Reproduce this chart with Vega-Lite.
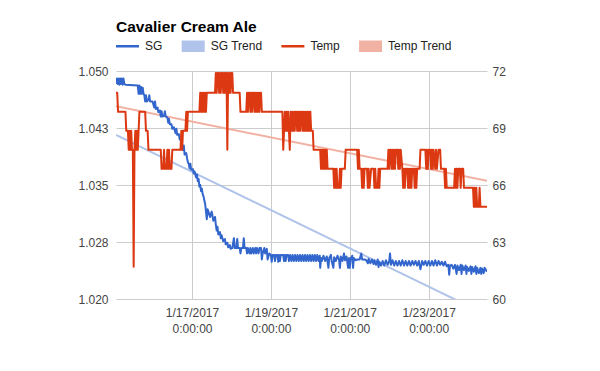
{
  "$schema": "https://vega.github.io/schema/vega-lite/v6.json",
  "width": 371,
  "height": 228,
  "autosize": {"type": "none"},
  "padding": {"left": 116, "top": 71, "right": 113, "bottom": 72},
  "background": "white",
  "config": {
    "font": "Liberation Sans",
    "view": {"stroke": null},
    "axis": {"labelFont": "Liberation Sans", "labelFontSize": 12, "labelColor": "#444444", "domain": false, "ticks": false, "title": null, "gridColor": "#cccccc", "gridWidth": 1}
  },
  "title": {"text": "Cavalier Cream Ale", "anchor": "start", "frame": "group", "font": "Liberation Sans", "fontSize": 15.5, "fontWeight": "bold", "color": "#000000", "offset": -1},
  "datasets": {
    "sgTrend": [{"t": "2017-01-15T01:45", "v": 1.0416}, {"t": "2017-01-24T11:30", "v": 1.0179}],
    "tempTrend": [{"t": "2017-01-15T01:45", "v": 70.14}, {"t": "2017-01-24T11:30", "v": 66.22}],
    "sg": [
      {"t": "2017-01-15T01:45", "v": 1.0483}, {"t": "2017-01-15T02:18", "v": 1.049}, {"t": "2017-01-15T02:48", "v": 1.0483}, {"t": "2017-01-15T03:18", "v": 1.049}, {"t": "2017-01-15T03:48", "v": 1.0482}, {"t": "2017-01-15T04:18", "v": 1.049}, {"t": "2017-01-15T04:48", "v": 1.0483}, {"t": "2017-01-15T05:18", "v": 1.049}, {"t": "2017-01-15T05:48", "v": 1.0482}, {"t": "2017-01-15T06:18", "v": 1.049}, {"t": "2017-01-15T06:48", "v": 1.0483}, {"t": "2017-01-15T07:30", "v": 1.0482},
      {"t": "2017-01-15T15:00", "v": 1.0481}, {"t": "2017-01-15T15:30", "v": 1.047}, {"t": "2017-01-15T16:00", "v": 1.0481}, {"t": "2017-01-15T16:30", "v": 1.047}, {"t": "2017-01-15T17:00", "v": 1.0479}, {"t": "2017-01-15T17:30", "v": 1.047}, {"t": "2017-01-15T18:00", "v": 1.0478}, {"t": "2017-01-15T18:30", "v": 1.047},
      {"t": "2017-01-15T19:00", "v": 1.0468}, {"t": "2017-01-15T19:30", "v": 1.046}, {"t": "2017-01-15T20:00", "v": 1.0468}, {"t": "2017-01-15T20:30", "v": 1.046}, {"t": "2017-01-15T21:30", "v": 1.0462}, {"t": "2017-01-15T22:00", "v": 1.0468}, {"t": "2017-01-15T22:30", "v": 1.046}, {"t": "2017-01-16T00:00", "v": 1.046},
      {"t": "2017-01-16T01:00", "v": 1.0452}, {"t": "2017-01-16T01:30", "v": 1.046}, {"t": "2017-01-16T02:00", "v": 1.045}, {"t": "2017-01-16T03:00", "v": 1.0452}, {"t": "2017-01-16T03:30", "v": 1.0446}, {"t": "2017-01-16T04:30", "v": 1.0448},
      {"t": "2017-01-16T05:00", "v": 1.044}, {"t": "2017-01-16T05:30", "v": 1.0447}, {"t": "2017-01-16T06:00", "v": 1.044}, {"t": "2017-01-16T07:00", "v": 1.0441}, {"t": "2017-01-16T07:30", "v": 1.0447}, {"t": "2017-01-16T08:00", "v": 1.044}, {"t": "2017-01-16T09:00", "v": 1.0439},
      {"t": "2017-01-16T09:30", "v": 1.0432}, {"t": "2017-01-16T10:00", "v": 1.0437}, {"t": "2017-01-16T10:30", "v": 1.043}, {"t": "2017-01-16T11:30", "v": 1.043}, {"t": "2017-01-16T12:00", "v": 1.0424}, {"t": "2017-01-16T13:00", "v": 1.0426},
      {"t": "2017-01-16T14:00", "v": 1.0418}, {"t": "2017-01-16T14:30", "v": 1.0424}, {"t": "2017-01-16T15:00", "v": 1.0416}, {"t": "2017-01-16T16:00", "v": 1.0417}, {"t": "2017-01-16T16:30", "v": 1.041}, {"t": "2017-01-16T17:30", "v": 1.0412},
      {"t": "2017-01-16T18:00", "v": 1.0403}, {"t": "2017-01-16T18:30", "v": 1.0396}, {"t": "2017-01-16T19:00", "v": 1.0402}, {"t": "2017-01-16T19:30", "v": 1.039}, {"t": "2017-01-16T20:30", "v": 1.0392}, {"t": "2017-01-16T21:00", "v": 1.0385}, {"t": "2017-01-16T21:30", "v": 1.038},
      {"t": "2017-01-16T22:00", "v": 1.0378}, {"t": "2017-01-16T22:30", "v": 1.0372}, {"t": "2017-01-16T23:00", "v": 1.0378}, {"t": "2017-01-16T23:30", "v": 1.037}, {"t": "2017-01-17T00:30", "v": 1.0371}, {"t": "2017-01-17T01:00", "v": 1.0365}, {"t": "2017-01-17T01:30", "v": 1.0368}, {"t": "2017-01-17T02:30", "v": 1.036}, {"t": "2017-01-17T03:00", "v": 1.0364},
      {"t": "2017-01-17T03:30", "v": 1.0355}, {"t": "2017-01-17T04:00", "v": 1.0358}, {"t": "2017-01-17T04:30", "v": 1.0348}, {"t": "2017-01-17T05:00", "v": 1.035}, {"t": "2017-01-17T05:30", "v": 1.0342}, {"t": "2017-01-17T06:00", "v": 1.0345}, {"t": "2017-01-17T06:30", "v": 1.0338}, {"t": "2017-01-17T07:00", "v": 1.0335}, {"t": "2017-01-17T07:30", "v": 1.033},
      {"t": "2017-01-17T08:00", "v": 1.0325}, {"t": "2017-01-17T08:30", "v": 1.0315}, {"t": "2017-01-17T09:00", "v": 1.0305}, {"t": "2017-01-17T09:30", "v": 1.0318}, {"t": "2017-01-17T10:00", "v": 1.0315}, {"t": "2017-01-17T11:00", "v": 1.0308}, {"t": "2017-01-17T12:00", "v": 1.0315}, {"t": "2017-01-17T13:00", "v": 1.0303}, {"t": "2017-01-17T14:00", "v": 1.0308},
      {"t": "2017-01-17T14:30", "v": 1.0298}, {"t": "2017-01-17T15:00", "v": 1.029}, {"t": "2017-01-17T15:30", "v": 1.0295}, {"t": "2017-01-17T16:00", "v": 1.0285}, {"t": "2017-01-17T17:00", "v": 1.0288}, {"t": "2017-01-17T17:30", "v": 1.028}, {"t": "2017-01-17T18:00", "v": 1.0284}, {"t": "2017-01-17T19:00", "v": 1.0276}, {"t": "2017-01-17T20:00", "v": 1.0279}, {"t": "2017-01-17T20:30", "v": 1.0272}, {"t": "2017-01-17T21:30", "v": 1.0274}, {"t": "2017-01-17T22:00", "v": 1.0268}, {"t": "2017-01-17T23:00", "v": 1.0271}, {"t": "2017-01-17T23:30", "v": 1.0266},
      {"t": "2017-01-18T00:30", "v": 1.0267}, {"t": "2017-01-18T01:30", "v": 1.028}, {"t": "2017-01-18T02:00", "v": 1.0267}, {"t": "2017-01-18T03:00", "v": 1.0267}, {"t": "2017-01-18T03:30", "v": 1.0279}, {"t": "2017-01-18T04:00", "v": 1.0267}, {"t": "2017-01-18T05:00", "v": 1.0267}, {"t": "2017-01-18T05:30", "v": 1.026}, {"t": "2017-01-18T06:00", "v": 1.0267}, {"t": "2017-01-18T07:00", "v": 1.0267}, {"t": "2017-01-18T07:30", "v": 1.028}, {"t": "2017-01-18T08:00", "v": 1.0267}, {"t": "2017-01-18T09:00", "v": 1.0267}, {"t": "2017-01-18T09:30", "v": 1.026}, {"t": "2017-01-18T10:00", "v": 1.0267},
      {"t": "2017-01-18T11:00", "v": 1.026}, {"t": "2017-01-18T11:30", "v": 1.0267}, {"t": "2017-01-18T12:00", "v": 1.026}, {"t": "2017-01-18T13:00", "v": 1.0267}, {"t": "2017-01-18T13:30", "v": 1.026}, {"t": "2017-01-18T14:30", "v": 1.0267}, {"t": "2017-01-18T15:00", "v": 1.026}, {"t": "2017-01-18T15:30", "v": 1.0267}, {"t": "2017-01-18T16:30", "v": 1.026}, {"t": "2017-01-18T17:00", "v": 1.0267}, {"t": "2017-01-18T18:00", "v": 1.0267}, {"t": "2017-01-18T18:30", "v": 1.0252}, {"t": "2017-01-18T19:00", "v": 1.026}, {"t": "2017-01-18T20:00", "v": 1.0267}, {"t": "2017-01-18T20:30", "v": 1.026}, {"t": "2017-01-18T21:30", "v": 1.0266}, {"t": "2017-01-18T22:00", "v": 1.0252}, {"t": "2017-01-18T23:00", "v": 1.026},
      {"t": "2017-01-19T00:00", "v": 1.0258}, {"t": "2017-01-19T00:30", "v": 1.0249}, {"t": "2017-01-19T01:00", "v": 1.0258}, {"t": "2017-01-19T02:00", "v": 1.0258}, {"t": "2017-01-19T02:30", "v": 1.025}, {"t": "2017-01-19T03:00", "v": 1.0258}, {"t": "2017-01-19T04:00", "v": 1.0258}, {"t": "2017-01-19T04:30", "v": 1.0249}, {"t": "2017-01-19T05:00", "v": 1.0258}, {"t": "2017-01-19T05:30", "v": 1.025}, {"t": "2017-01-19T06:00", "v": 1.0258}, {"t": "2017-01-19T07:30", "v": 1.0258}, {"t": "2017-01-19T08:00", "v": 1.025}, {"t": "2017-01-19T08:30", "v": 1.0258}, {"t": "2017-01-19T09:00", "v": 1.025}, {"t": "2017-01-19T09:30", "v": 1.0258}, {"t": "2017-01-19T10:30", "v": 1.0258}, {"t": "2017-01-19T11:00", "v": 1.025},
      {"t": "2017-01-19T11:45", "v": 1.0258}, {"t": "2017-01-19T12:30", "v": 1.025}, {"t": "2017-01-19T13:15", "v": 1.0258}, {"t": "2017-01-19T14:00", "v": 1.025}, {"t": "2017-01-19T14:45", "v": 1.0258}, {"t": "2017-01-19T15:30", "v": 1.025}, {"t": "2017-01-19T16:15", "v": 1.0258}, {"t": "2017-01-19T17:00", "v": 1.025}, {"t": "2017-01-19T17:45", "v": 1.0258}, {"t": "2017-01-19T18:30", "v": 1.025}, {"t": "2017-01-19T19:15", "v": 1.0258}, {"t": "2017-01-19T20:00", "v": 1.025}, {"t": "2017-01-19T20:45", "v": 1.0258}, {"t": "2017-01-19T21:30", "v": 1.025}, {"t": "2017-01-19T22:15", "v": 1.0258}, {"t": "2017-01-19T23:00", "v": 1.025}, {"t": "2017-01-19T23:45", "v": 1.0258}, {"t": "2017-01-20T00:30", "v": 1.025}, {"t": "2017-01-20T01:15", "v": 1.0258}, {"t": "2017-01-20T02:00", "v": 1.025}, {"t": "2017-01-20T02:45", "v": 1.0258}, {"t": "2017-01-20T03:30", "v": 1.025}, {"t": "2017-01-20T04:15", "v": 1.0258}, {"t": "2017-01-20T05:00", "v": 1.025}, {"t": "2017-01-20T05:45", "v": 1.0257},
      {"t": "2017-01-20T06:00", "v": 1.0241}, {"t": "2017-01-20T06:30", "v": 1.0254}, {"t": "2017-01-20T07:00", "v": 1.025}, {"t": "2017-01-20T08:00", "v": 1.0257}, {"t": "2017-01-20T09:00", "v": 1.025}, {"t": "2017-01-20T10:00", "v": 1.0256}, {"t": "2017-01-20T11:00", "v": 1.0241}, {"t": "2017-01-20T11:30", "v": 1.0254}, {"t": "2017-01-20T12:30", "v": 1.0258}, {"t": "2017-01-20T13:00", "v": 1.025}, {"t": "2017-01-20T14:00", "v": 1.0241}, {"t": "2017-01-20T14:30", "v": 1.0255}, {"t": "2017-01-20T15:30", "v": 1.025}, {"t": "2017-01-20T16:30", "v": 1.0257}, {"t": "2017-01-20T17:30", "v": 1.0251}, {"t": "2017-01-20T18:00", "v": 1.0241}, {"t": "2017-01-20T18:30", "v": 1.0256}, {"t": "2017-01-20T19:30", "v": 1.025}, {"t": "2017-01-20T20:30", "v": 1.026}, {"t": "2017-01-20T21:00", "v": 1.0251}, {"t": "2017-01-20T22:00", "v": 1.0256}, {"t": "2017-01-20T23:00", "v": 1.0241}, {"t": "2017-01-20T23:30", "v": 1.0254}, {"t": "2017-01-21T00:00", "v": 1.0241}, {"t": "2017-01-21T00:30", "v": 1.0253}, {"t": "2017-01-21T01:30", "v": 1.0257}, {"t": "2017-01-21T02:00", "v": 1.0241}, {"t": "2017-01-21T02:30", "v": 1.0254}, {"t": "2017-01-21T03:30", "v": 1.0251},
      {"t": "2017-01-21T04:30", "v": 1.0252}, {"t": "2017-01-21T06:00", "v": 1.0252}, {"t": "2017-01-21T07:00", "v": 1.026}, {"t": "2017-01-21T07:30", "v": 1.0252}, {"t": "2017-01-21T09:00", "v": 1.0252}, {"t": "2017-01-21T10:00", "v": 1.0251}, {"t": "2017-01-21T11:00", "v": 1.0247}, {"t": "2017-01-21T11:30", "v": 1.0253}, {"t": "2017-01-21T12:30", "v": 1.0247}, {"t": "2017-01-21T13:30", "v": 1.0252}, {"t": "2017-01-21T14:30", "v": 1.0246}, {"t": "2017-01-21T15:00", "v": 1.0251}, {"t": "2017-01-21T16:00", "v": 1.0245}, {"t": "2017-01-21T17:00", "v": 1.0252}, {"t": "2017-01-21T17:30", "v": 1.0242}, {"t": "2017-01-21T18:00", "v": 1.0249},
      {"t": "2017-01-21T19:00", "v": 1.0244}, {"t": "2017-01-21T20:00", "v": 1.025}, {"t": "2017-01-21T21:00", "v": 1.0244}, {"t": "2017-01-21T22:00", "v": 1.0251}, {"t": "2017-01-21T23:00", "v": 1.0245}, {"t": "2017-01-22T00:00", "v": 1.025}, {"t": "2017-01-22T00:30", "v": 1.026}, {"t": "2017-01-22T01:00", "v": 1.0245}, {"t": "2017-01-22T02:00", "v": 1.0251}, {"t": "2017-01-22T03:00", "v": 1.0244}, {"t": "2017-01-22T04:00", "v": 1.025}, {"t": "2017-01-22T05:00", "v": 1.0244}, {"t": "2017-01-22T06:00", "v": 1.025}, {"t": "2017-01-22T07:00", "v": 1.0244}, {"t": "2017-01-22T08:00", "v": 1.0251}, {"t": "2017-01-22T09:00", "v": 1.0244}, {"t": "2017-01-22T10:00", "v": 1.025}, {"t": "2017-01-22T11:00", "v": 1.0244}, {"t": "2017-01-22T12:00", "v": 1.025}, {"t": "2017-01-22T13:00", "v": 1.0244}, {"t": "2017-01-22T14:00", "v": 1.025}, {"t": "2017-01-22T15:00", "v": 1.0245}, {"t": "2017-01-22T16:00", "v": 1.025}, {"t": "2017-01-22T17:00", "v": 1.0244}, {"t": "2017-01-22T18:00", "v": 1.025}, {"t": "2017-01-22T19:00", "v": 1.0239}, {"t": "2017-01-22T20:00", "v": 1.025}, {"t": "2017-01-22T21:00", "v": 1.0245}, {"t": "2017-01-22T22:00", "v": 1.025}, {"t": "2017-01-22T23:00", "v": 1.0244}, {"t": "2017-01-23T00:00", "v": 1.025}, {"t": "2017-01-23T01:00", "v": 1.0244}, {"t": "2017-01-23T02:00", "v": 1.025}, {"t": "2017-01-23T03:00", "v": 1.0244}, {"t": "2017-01-23T04:00", "v": 1.0251}, {"t": "2017-01-23T05:00", "v": 1.0244}, {"t": "2017-01-23T06:00", "v": 1.025}, {"t": "2017-01-23T07:00", "v": 1.0245}, {"t": "2017-01-23T08:00", "v": 1.0249}, {"t": "2017-01-23T09:00", "v": 1.0244}, {"t": "2017-01-23T10:00", "v": 1.0249}, {"t": "2017-01-23T11:00", "v": 1.0243},
      {"t": "2017-01-23T12:00", "v": 1.0245}, {"t": "2017-01-23T12:30", "v": 1.0232}, {"t": "2017-01-23T13:00", "v": 1.0244}, {"t": "2017-01-23T14:00", "v": 1.0245}, {"t": "2017-01-23T15:00", "v": 1.024}, {"t": "2017-01-23T16:00", "v": 1.0245}, {"t": "2017-01-23T17:00", "v": 1.0233}, {"t": "2017-01-23T17:30", "v": 1.0244}, {"t": "2017-01-23T18:30", "v": 1.0238}, {"t": "2017-01-23T19:30", "v": 1.0245}, {"t": "2017-01-23T20:00", "v": 1.0233}, {"t": "2017-01-23T20:30", "v": 1.0244}, {"t": "2017-01-23T21:30", "v": 1.0238}, {"t": "2017-01-23T22:30", "v": 1.0244}, {"t": "2017-01-23T23:00", "v": 1.0233}, {"t": "2017-01-23T23:30", "v": 1.0242}, {"t": "2017-01-24T00:30", "v": 1.0237}, {"t": "2017-01-24T01:30", "v": 1.0243}, {"t": "2017-01-24T02:00", "v": 1.0233}, {"t": "2017-01-24T02:30", "v": 1.0242}, {"t": "2017-01-24T03:30", "v": 1.0236}, {"t": "2017-01-24T04:30", "v": 1.0243}, {"t": "2017-01-24T05:00", "v": 1.0233}, {"t": "2017-01-24T05:30", "v": 1.0241}, {"t": "2017-01-24T06:30", "v": 1.0234}, {"t": "2017-01-24T07:30", "v": 1.0241}, {"t": "2017-01-24T08:00", "v": 1.0233}, {"t": "2017-01-24T08:30", "v": 1.024}, {"t": "2017-01-24T09:30", "v": 1.0234}, {"t": "2017-01-24T10:00", "v": 1.0241}, {"t": "2017-01-24T11:30", "v": 1.0236}
    ],
    "temp": [
      {"t": "2017-01-15T01:45", "v": 70.85}, {"t": "2017-01-15T02:30", "v": 70.85}, {"t": "2017-01-15T03:00", "v": 69.85}, {"t": "2017-01-15T07:30", "v": 69.85}, {"t": "2017-01-15T08:00", "v": 68.85}, {"t": "2017-01-15T09:00", "v": 68.85}, {"t": "2017-01-15T09:30", "v": 67.85}, {"t": "2017-01-15T10:00", "v": 68.85}, {"t": "2017-01-15T10:30", "v": 67.85}, {"t": "2017-01-15T11:00", "v": 68.85}, {"t": "2017-01-15T11:30", "v": 67.85}, {"t": "2017-01-15T12:00", "v": 67.85}, {"t": "2017-01-15T12:30", "v": 61.7}, {"t": "2017-01-15T13:00", "v": 67.85}, {"t": "2017-01-15T13:30", "v": 68.85}, {"t": "2017-01-15T14:00", "v": 67.85}, {"t": "2017-01-15T14:30", "v": 68.85}, {"t": "2017-01-15T15:00", "v": 67.85}, {"t": "2017-01-15T15:30", "v": 68.85}, {"t": "2017-01-15T16:00", "v": 69.85}, {"t": "2017-01-15T19:30", "v": 69.85}, {"t": "2017-01-15T20:00", "v": 68.85}, {"t": "2017-01-15T21:00", "v": 68.85}, {"t": "2017-01-15T21:30", "v": 67.85},
      {"t": "2017-01-16T05:00", "v": 67.85}, {"t": "2017-01-16T05:30", "v": 66.85}, {"t": "2017-01-16T06:30", "v": 66.85}, {"t": "2017-01-16T07:00", "v": 67.85}, {"t": "2017-01-16T07:30", "v": 66.85}, {"t": "2017-01-16T08:30", "v": 66.85}, {"t": "2017-01-16T09:00", "v": 67.85}, {"t": "2017-01-16T09:30", "v": 66.85}, {"t": "2017-01-16T10:00", "v": 67.85}, {"t": "2017-01-16T10:30", "v": 66.85}, {"t": "2017-01-16T11:30", "v": 66.85}, {"t": "2017-01-16T12:00", "v": 67.85}, {"t": "2017-01-16T17:00", "v": 67.85}, {"t": "2017-01-16T17:30", "v": 68.85}, {"t": "2017-01-16T18:00", "v": 67.85}, {"t": "2017-01-16T18:30", "v": 68.85}, {"t": "2017-01-16T20:00", "v": 68.85}, {"t": "2017-01-16T20:30", "v": 69.85}, {"t": "2017-01-16T21:00", "v": 68.85}, {"t": "2017-01-16T21:30", "v": 69.85},
      {"t": "2017-01-17T04:30", "v": 69.85}, {"t": "2017-01-17T05:00", "v": 70.85}, {"t": "2017-01-17T05:30", "v": 69.85}, {"t": "2017-01-17T06:00", "v": 70.85}, {"t": "2017-01-17T06:30", "v": 69.85}, {"t": "2017-01-17T07:00", "v": 70.85}, {"t": "2017-01-17T07:30", "v": 69.85}, {"t": "2017-01-17T08:00", "v": 70.85}, {"t": "2017-01-17T08:30", "v": 69.85}, {"t": "2017-01-17T09:00", "v": 70.85}, {"t": "2017-01-17T14:00", "v": 70.85}, {"t": "2017-01-17T14:30", "v": 71.9}, {"t": "2017-01-17T15:00", "v": 70.85}, {"t": "2017-01-17T15:30", "v": 71.9}, {"t": "2017-01-17T16:00", "v": 71.9}, {"t": "2017-01-17T16:30", "v": 70.85}, {"t": "2017-01-17T17:00", "v": 71.9}, {"t": "2017-01-17T17:30", "v": 70.85}, {"t": "2017-01-17T18:00", "v": 71.9}, {"t": "2017-01-17T18:30", "v": 71.9}, {"t": "2017-01-17T19:00", "v": 70.85}, {"t": "2017-01-17T19:30", "v": 71.9}, {"t": "2017-01-17T20:00", "v": 70.85}, {"t": "2017-01-17T20:30", "v": 71.9}, {"t": "2017-01-17T21:00", "v": 71.9}, {"t": "2017-01-17T21:30", "v": 67.85}, {"t": "2017-01-17T22:00", "v": 71.9}, {"t": "2017-01-17T22:30", "v": 70.85}, {"t": "2017-01-17T23:00", "v": 71.9}, {"t": "2017-01-17T23:30", "v": 70.85},
      {"t": "2017-01-18T00:00", "v": 71.9}, {"t": "2017-01-18T00:30", "v": 71.9}, {"t": "2017-01-18T01:00", "v": 70.85}, {"t": "2017-01-18T05:00", "v": 70.85}, {"t": "2017-01-18T05:30", "v": 69.85}, {"t": "2017-01-18T09:00", "v": 69.85}, {"t": "2017-01-18T09:30", "v": 70.85}, {"t": "2017-01-18T10:00", "v": 69.85}, {"t": "2017-01-18T10:30", "v": 70.85}, {"t": "2017-01-18T11:00", "v": 70.85}, {"t": "2017-01-18T11:30", "v": 69.85}, {"t": "2017-01-18T12:00", "v": 70.85}, {"t": "2017-01-18T12:30", "v": 69.85}, {"t": "2017-01-18T13:00", "v": 70.85}, {"t": "2017-01-18T13:30", "v": 70.85}, {"t": "2017-01-18T14:00", "v": 69.85}, {"t": "2017-01-18T14:30", "v": 70.85}, {"t": "2017-01-18T15:00", "v": 69.85}, {"t": "2017-01-18T15:30", "v": 70.85}, {"t": "2017-01-18T16:00", "v": 69.85}, {"t": "2017-01-18T16:30", "v": 70.85}, {"t": "2017-01-18T17:00", "v": 69.85}, {"t": "2017-01-18T17:30", "v": 70.85}, {"t": "2017-01-18T18:00", "v": 70.85}, {"t": "2017-01-18T18:30", "v": 69.85},
      {"t": "2017-01-19T07:00", "v": 69.85}, {"t": "2017-01-19T07:30", "v": 67.85}, {"t": "2017-01-19T08:00", "v": 68.85}, {"t": "2017-01-19T08:30", "v": 69.85}, {"t": "2017-01-19T09:00", "v": 68.85}, {"t": "2017-01-19T09:30", "v": 69.85}, {"t": "2017-01-19T10:00", "v": 68.85}, {"t": "2017-01-19T10:30", "v": 69.85}, {"t": "2017-01-19T11:00", "v": 68.85}, {"t": "2017-01-19T11:30", "v": 67.85}, {"t": "2017-01-19T12:00", "v": 69.85}, {"t": "2017-01-19T12:30", "v": 68.85}, {"t": "2017-01-19T13:00", "v": 69.85}, {"t": "2017-01-19T13:30", "v": 68.85}, {"t": "2017-01-19T14:00", "v": 69.85}, {"t": "2017-01-19T14:30", "v": 68.85}, {"t": "2017-01-19T15:00", "v": 69.85}, {"t": "2017-01-19T15:30", "v": 69.85}, {"t": "2017-01-19T16:00", "v": 68.85}, {"t": "2017-01-19T16:30", "v": 69.85}, {"t": "2017-01-19T17:00", "v": 68.85}, {"t": "2017-01-19T17:30", "v": 69.85}, {"t": "2017-01-19T18:00", "v": 68.85}, {"t": "2017-01-19T18:30", "v": 69.85}, {"t": "2017-01-19T19:00", "v": 69.85}, {"t": "2017-01-19T19:30", "v": 68.85}, {"t": "2017-01-19T20:00", "v": 69.85}, {"t": "2017-01-19T20:30", "v": 68.85}, {"t": "2017-01-19T21:00", "v": 69.85}, {"t": "2017-01-19T21:30", "v": 68.85}, {"t": "2017-01-19T22:00", "v": 69.85}, {"t": "2017-01-19T22:30", "v": 68.85}, {"t": "2017-01-19T23:00", "v": 69.85}, {"t": "2017-01-19T23:30", "v": 68.85},
      {"t": "2017-01-20T00:00", "v": 69.85}, {"t": "2017-01-20T00:30", "v": 68.85}, {"t": "2017-01-20T01:30", "v": 68.85}, {"t": "2017-01-20T02:00", "v": 67.85}, {"t": "2017-01-20T06:00", "v": 67.85}, {"t": "2017-01-20T06:30", "v": 66.85}, {"t": "2017-01-20T07:00", "v": 67.85}, {"t": "2017-01-20T07:30", "v": 66.85}, {"t": "2017-01-20T08:00", "v": 67.85}, {"t": "2017-01-20T08:30", "v": 66.85}, {"t": "2017-01-20T09:00", "v": 67.85}, {"t": "2017-01-20T09:30", "v": 66.85}, {"t": "2017-01-20T10:00", "v": 67.85}, {"t": "2017-01-20T10:30", "v": 66.85}, {"t": "2017-01-20T14:00", "v": 66.85}, {"t": "2017-01-20T14:30", "v": 65.85}, {"t": "2017-01-20T15:00", "v": 66.85}, {"t": "2017-01-20T15:30", "v": 65.85}, {"t": "2017-01-20T16:00", "v": 66.85}, {"t": "2017-01-20T16:30", "v": 65.85}, {"t": "2017-01-20T17:30", "v": 65.85}, {"t": "2017-01-20T18:00", "v": 66.85}, {"t": "2017-01-20T18:30", "v": 65.85}, {"t": "2017-01-20T19:00", "v": 66.85}, {"t": "2017-01-20T21:00", "v": 66.85}, {"t": "2017-01-20T21:30", "v": 67.85},
      {"t": "2017-01-21T04:30", "v": 67.85}, {"t": "2017-01-21T05:00", "v": 66.85}, {"t": "2017-01-21T05:30", "v": 67.85}, {"t": "2017-01-21T06:00", "v": 66.85}, {"t": "2017-01-21T07:00", "v": 66.85}, {"t": "2017-01-21T07:30", "v": 65.85}, {"t": "2017-01-21T08:00", "v": 66.85}, {"t": "2017-01-21T08:30", "v": 65.85}, {"t": "2017-01-21T09:00", "v": 66.85}, {"t": "2017-01-21T10:30", "v": 66.85}, {"t": "2017-01-21T11:00", "v": 65.85}, {"t": "2017-01-21T11:30", "v": 66.85}, {"t": "2017-01-21T12:00", "v": 65.85}, {"t": "2017-01-21T13:00", "v": 66.85}, {"t": "2017-01-21T14:30", "v": 66.85}, {"t": "2017-01-21T15:00", "v": 65.85}, {"t": "2017-01-21T15:30", "v": 66.85}, {"t": "2017-01-21T16:00", "v": 65.85}, {"t": "2017-01-21T17:00", "v": 65.85}, {"t": "2017-01-21T17:30", "v": 66.85}, {"t": "2017-01-21T18:00", "v": 65.85}, {"t": "2017-01-21T18:30", "v": 66.85}, {"t": "2017-01-21T23:00", "v": 66.85}, {"t": "2017-01-21T23:30", "v": 67.85},
      {"t": "2017-01-22T00:00", "v": 66.85}, {"t": "2017-01-22T00:30", "v": 67.85}, {"t": "2017-01-22T01:00", "v": 67.85}, {"t": "2017-01-22T01:30", "v": 66.85}, {"t": "2017-01-22T02:00", "v": 67.85}, {"t": "2017-01-22T02:30", "v": 66.85}, {"t": "2017-01-22T03:00", "v": 67.85}, {"t": "2017-01-22T03:30", "v": 66.85}, {"t": "2017-01-22T04:00", "v": 67.85}, {"t": "2017-01-22T05:00", "v": 67.85}, {"t": "2017-01-22T05:30", "v": 66.85}, {"t": "2017-01-22T06:00", "v": 67.85}, {"t": "2017-01-22T06:30", "v": 66.85}, {"t": "2017-01-22T07:00", "v": 67.85}, {"t": "2017-01-22T08:00", "v": 66.85}, {"t": "2017-01-22T08:30", "v": 65.85}, {"t": "2017-01-22T09:00", "v": 66.85}, {"t": "2017-01-22T09:30", "v": 65.85}, {"t": "2017-01-22T10:00", "v": 66.85}, {"t": "2017-01-22T11:00", "v": 66.85}, {"t": "2017-01-22T11:30", "v": 65.85}, {"t": "2017-01-22T12:00", "v": 66.85}, {"t": "2017-01-22T12:30", "v": 65.85}, {"t": "2017-01-22T13:00", "v": 66.85}, {"t": "2017-01-22T13:30", "v": 65.85}, {"t": "2017-01-22T14:00", "v": 66.85}, {"t": "2017-01-22T15:00", "v": 66.85}, {"t": "2017-01-22T15:30", "v": 65.85}, {"t": "2017-01-22T16:00", "v": 66.85}, {"t": "2017-01-22T16:30", "v": 65.85}, {"t": "2017-01-22T17:00", "v": 66.85}, {"t": "2017-01-22T18:30", "v": 66.85}, {"t": "2017-01-22T19:00", "v": 67.85}, {"t": "2017-01-22T22:00", "v": 67.85}, {"t": "2017-01-22T22:30", "v": 66.85}, {"t": "2017-01-22T23:00", "v": 67.85}, {"t": "2017-01-22T23:30", "v": 66.85},
      {"t": "2017-01-23T00:00", "v": 67.85}, {"t": "2017-01-23T01:00", "v": 67.85}, {"t": "2017-01-23T01:30", "v": 66.85}, {"t": "2017-01-23T02:00", "v": 67.85}, {"t": "2017-01-23T02:30", "v": 66.85}, {"t": "2017-01-23T03:00", "v": 67.85}, {"t": "2017-01-23T04:00", "v": 66.85}, {"t": "2017-01-23T04:30", "v": 67.85}, {"t": "2017-01-23T05:00", "v": 66.85}, {"t": "2017-01-23T06:00", "v": 67.85}, {"t": "2017-01-23T07:00", "v": 67.85}, {"t": "2017-01-23T07:30", "v": 66.85}, {"t": "2017-01-23T09:30", "v": 66.85}, {"t": "2017-01-23T10:00", "v": 65.85}, {"t": "2017-01-23T10:30", "v": 66.85}, {"t": "2017-01-23T11:00", "v": 65.85}, {"t": "2017-01-23T15:30", "v": 65.85}, {"t": "2017-01-23T16:00", "v": 66.85}, {"t": "2017-01-23T16:30", "v": 65.85}, {"t": "2017-01-23T17:00", "v": 66.85}, {"t": "2017-01-23T17:30", "v": 65.85}, {"t": "2017-01-23T18:00", "v": 66.85}, {"t": "2017-01-23T19:00", "v": 66.85}, {"t": "2017-01-23T19:30", "v": 65.85}, {"t": "2017-01-23T20:00", "v": 66.85}, {"t": "2017-01-23T21:00", "v": 66.85}, {"t": "2017-01-23T21:30", "v": 65.85}, {"t": "2017-01-23T22:30", "v": 65.85},
      {"t": "2017-01-24T03:00", "v": 65.85}, {"t": "2017-01-24T03:30", "v": 64.85}, {"t": "2017-01-24T04:00", "v": 65.85}, {"t": "2017-01-24T04:30", "v": 64.85}, {"t": "2017-01-24T05:00", "v": 65.85}, {"t": "2017-01-24T05:30", "v": 64.85}, {"t": "2017-01-24T06:30", "v": 64.85}, {"t": "2017-01-24T07:00", "v": 65.85}, {"t": "2017-01-24T07:30", "v": 64.85}, {"t": "2017-01-24T11:30", "v": 64.85}
    ]
  },
  "encoding": {
    "x": {
      "field": "t",
      "type": "temporal",
      "scale": {"domain": [{"year": 2017, "month": 1, "date": 15, "hours": 1, "minutes": 45}, {"year": 2017, "month": 1, "date": 24, "hours": 11, "minutes": 30}], "nice": false},
      "axis": {
        "values": [{"year": 2017, "month": 1, "date": 17}, {"year": 2017, "month": 1, "date": 19}, {"year": 2017, "month": 1, "date": 21}, {"year": 2017, "month": 1, "date": 23}],
        "labelExpr": "[timeFormat(datum.value, '%-m/%-d/%Y'), '0:00:00']",
        "grid": true,
        "labelPadding": 8,
        "labelLineHeight": 16,
        "labelOverlap": false,
        "labelFlush": false,
        "labelBaseline": "top"
      }
    }
  },
  "layer": [
    {
      "data": {"name": "sgTrend"},
      "mark": {"type": "line", "strokeWidth": 2, "clip": true},
      "encoding": {
        "y": {"field": "v", "type": "quantitative", "scale": {"domain": [1.02, 1.05], "nice": false, "zero": false}, "axis": null},
        "color": {"datum": "SG Trend", "type": "nominal", "scale": {"domain": ["SG", "SG Trend", "Temp", "Temp Trend"], "range": ["#3366cc", "#b0c3ea", "#dc3912", "#f2b2a3"]}}
      }
    },
    {
      "data": {"name": "tempTrend"},
      "mark": {"type": "line", "strokeWidth": 2, "clip": true},
      "encoding": {
        "y": {"field": "v", "type": "quantitative", "scale": {"domain": [60, 72], "nice": false, "zero": false}, "axis": null},
        "color": {"datum": "Temp Trend", "type": "nominal", "scale": {"domain": ["SG", "SG Trend", "Temp", "Temp Trend"], "range": ["#3366cc", "#b0c3ea", "#dc3912", "#f2b2a3"]}}
      }
    },
    {
      "data": {"name": "sg"},
      "mark": {"type": "line", "strokeWidth": 2, "strokeJoin": "round", "clip": true},
      "encoding": {
        "y": {"field": "v", "type": "quantitative", "scale": {"domain": [1.02, 1.05], "nice": false, "zero": false},
          "axis": {"orient": "left", "values": [1.02, 1.0275, 1.035, 1.0425, 1.05], "labelExpr": "format(datum.value + 0.00001, '.3f')", "grid": true, "labelPadding": 8}},
        "color": {"datum": "SG", "type": "nominal", "scale": {"domain": ["SG", "SG Trend", "Temp", "Temp Trend"], "range": ["#3366cc", "#b0c3ea", "#dc3912", "#f2b2a3"]},
          "legend": {"orient": "none", "legendX": 0, "legendY": -36.5, "direction": "horizontal", "title": null, "symbolType": "M-1,-0.5M1,0.5M-1,-0.11H1V0.11H-1Z", "symbolSize": 529, "symbolStrokeWidth": 0, "labelFont": "Liberation Sans", "labelFontSize": 12, "labelColor": "#222222", "labelOffset": 6, "columnPadding": 18.7,
            "encode": {"symbols": {"update": {
              "shape": {"signal": "(datum.value == 'SG Trend' || datum.value == 'Temp Trend') ? 'M-1,-0.5H1V0.5H-1Z' : 'M-1,-0.5M1,0.5M-1,-0.11H1V0.11H-1Z'"},
              "fill": {"signal": "scale('color', datum.value)"},
              "strokeWidth": {"value": 0}
            }}}}}
      }
    },
    {
      "data": {"name": "temp"},
      "mark": {"type": "line", "strokeWidth": 2, "strokeJoin": "round", "clip": true},
      "encoding": {
        "y": {"field": "v", "type": "quantitative", "scale": {"domain": [60, 72], "nice": false, "zero": false},
          "axis": {"orient": "right", "values": [60, 63, 66, 69, 72], "grid": false, "labelPadding": 5}},
        "color": {"datum": "Temp", "type": "nominal", "scale": {"domain": ["SG", "SG Trend", "Temp", "Temp Trend"], "range": ["#3366cc", "#b0c3ea", "#dc3912", "#f2b2a3"]}}
      }
    }
  ],
  "resolve": {"scale": {"y": "independent"}}
}
